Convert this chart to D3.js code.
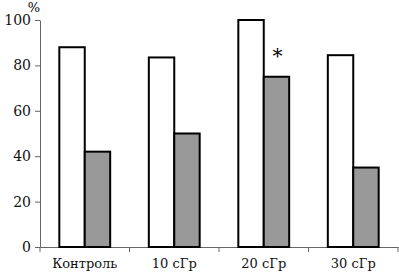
<!DOCTYPE html>
<html><head><meta charset="utf-8">
<script src="https://cdn.jsdelivr.net/npm/d3@7"></script>
<style>body{margin:0;background:#fff}svg{display:block}</style>
</head><body>
<script>
const categories = ["Контроль", "10 сГр", "20 сГр", "30 сГр"];
const seriesWhite = [88, 83.5, 100, 84.5];
const seriesGray = [42, 50, 75, 35];
const yTicks = [0, 20, 40, 60, 80, 100];
const starCategory = "20 сГр";

const W = 399, H = 277;
const svg = d3.select("body").append("svg").attr("width", W).attr("height", H);
const font = "DejaVu Serif";

const x = d3.scaleBand().domain(categories).range([40, 398]).paddingInner(0).paddingOuter(0);
const y = d3.scaleLinear().domain([0, 100]).range([247, 20]);
const sub = d3.scaleBand().domain(["w", "g"]).range([0, x.bandwidth()]).paddingInner(0).paddingOuter(0.76);

// y axis
const ya = svg.append("g").attr("transform", "translate(40,0)")
  .call(d3.axisLeft(y).tickValues(yTicks).tickSize(5).tickSizeOuter(0).tickPadding(4));
ya.attr("font-family", font);
ya.select(".domain").attr("stroke", "#666");
ya.selectAll(".tick line").attr("stroke", "#666");
ya.selectAll("text").attr("font-family", font).attr("font-size", 14).attr("fill", "#111");

// x axis
const xa = svg.append("g").attr("transform", "translate(0,247)")
  .call(d3.axisBottom(x).tickSize(0).tickPadding(12));
xa.attr("font-family", font);
xa.select(".domain").attr("stroke", "#666");
xa.selectAll("text").attr("font-family", font).attr("font-size", 13).attr("fill", "#111");
// band boundary ticks
const bounds = categories.map(c => x(c)).concat([x.range()[1]]);
svg.append("g").selectAll("line").data(bounds).join("line")
  .attr("x1", d => d).attr("x2", d => d).attr("y1", 247).attr("y2", 252)
  .attr("stroke", "#666");

// bars
const g = svg.append("g");
g.selectAll("rect.w").data(categories).join("rect").attr("class", "w")
  .attr("x", (c) => x(c) + sub("w"))
  .attr("width", sub.bandwidth())
  .attr("y", (c, i) => y(seriesWhite[i]))
  .attr("height", (c, i) => y(0) - y(seriesWhite[i]))
  .attr("fill", "#fff").attr("stroke", "#000").attr("stroke-width", 2);
g.selectAll("rect.g").data(categories).join("rect").attr("class", "g")
  .attr("x", (c) => x(c) + sub("g"))
  .attr("width", sub.bandwidth())
  .attr("y", (c, i) => y(seriesGray[i]))
  .attr("height", (c, i) => y(0) - y(seriesGray[i]))
  .attr("fill", "#999").attr("stroke", "#000").attr("stroke-width", 2);

// asterisk
const si = categories.indexOf(starCategory);
svg.append("text").attr("x", x(starCategory) + sub("g") + sub.bandwidth() / 2 + 1)
  .attr("y", y(seriesGray[si]) - 14)
  .attr("text-anchor", "middle").attr("font-family", font).attr("font-size", 20)
  .text("*");

// % label
svg.append("text").attr("x", 34).attr("y", 12).attr("text-anchor", "middle")
  .attr("font-family", font).attr("font-size", 13).text("%");
</script>
</body></html>
